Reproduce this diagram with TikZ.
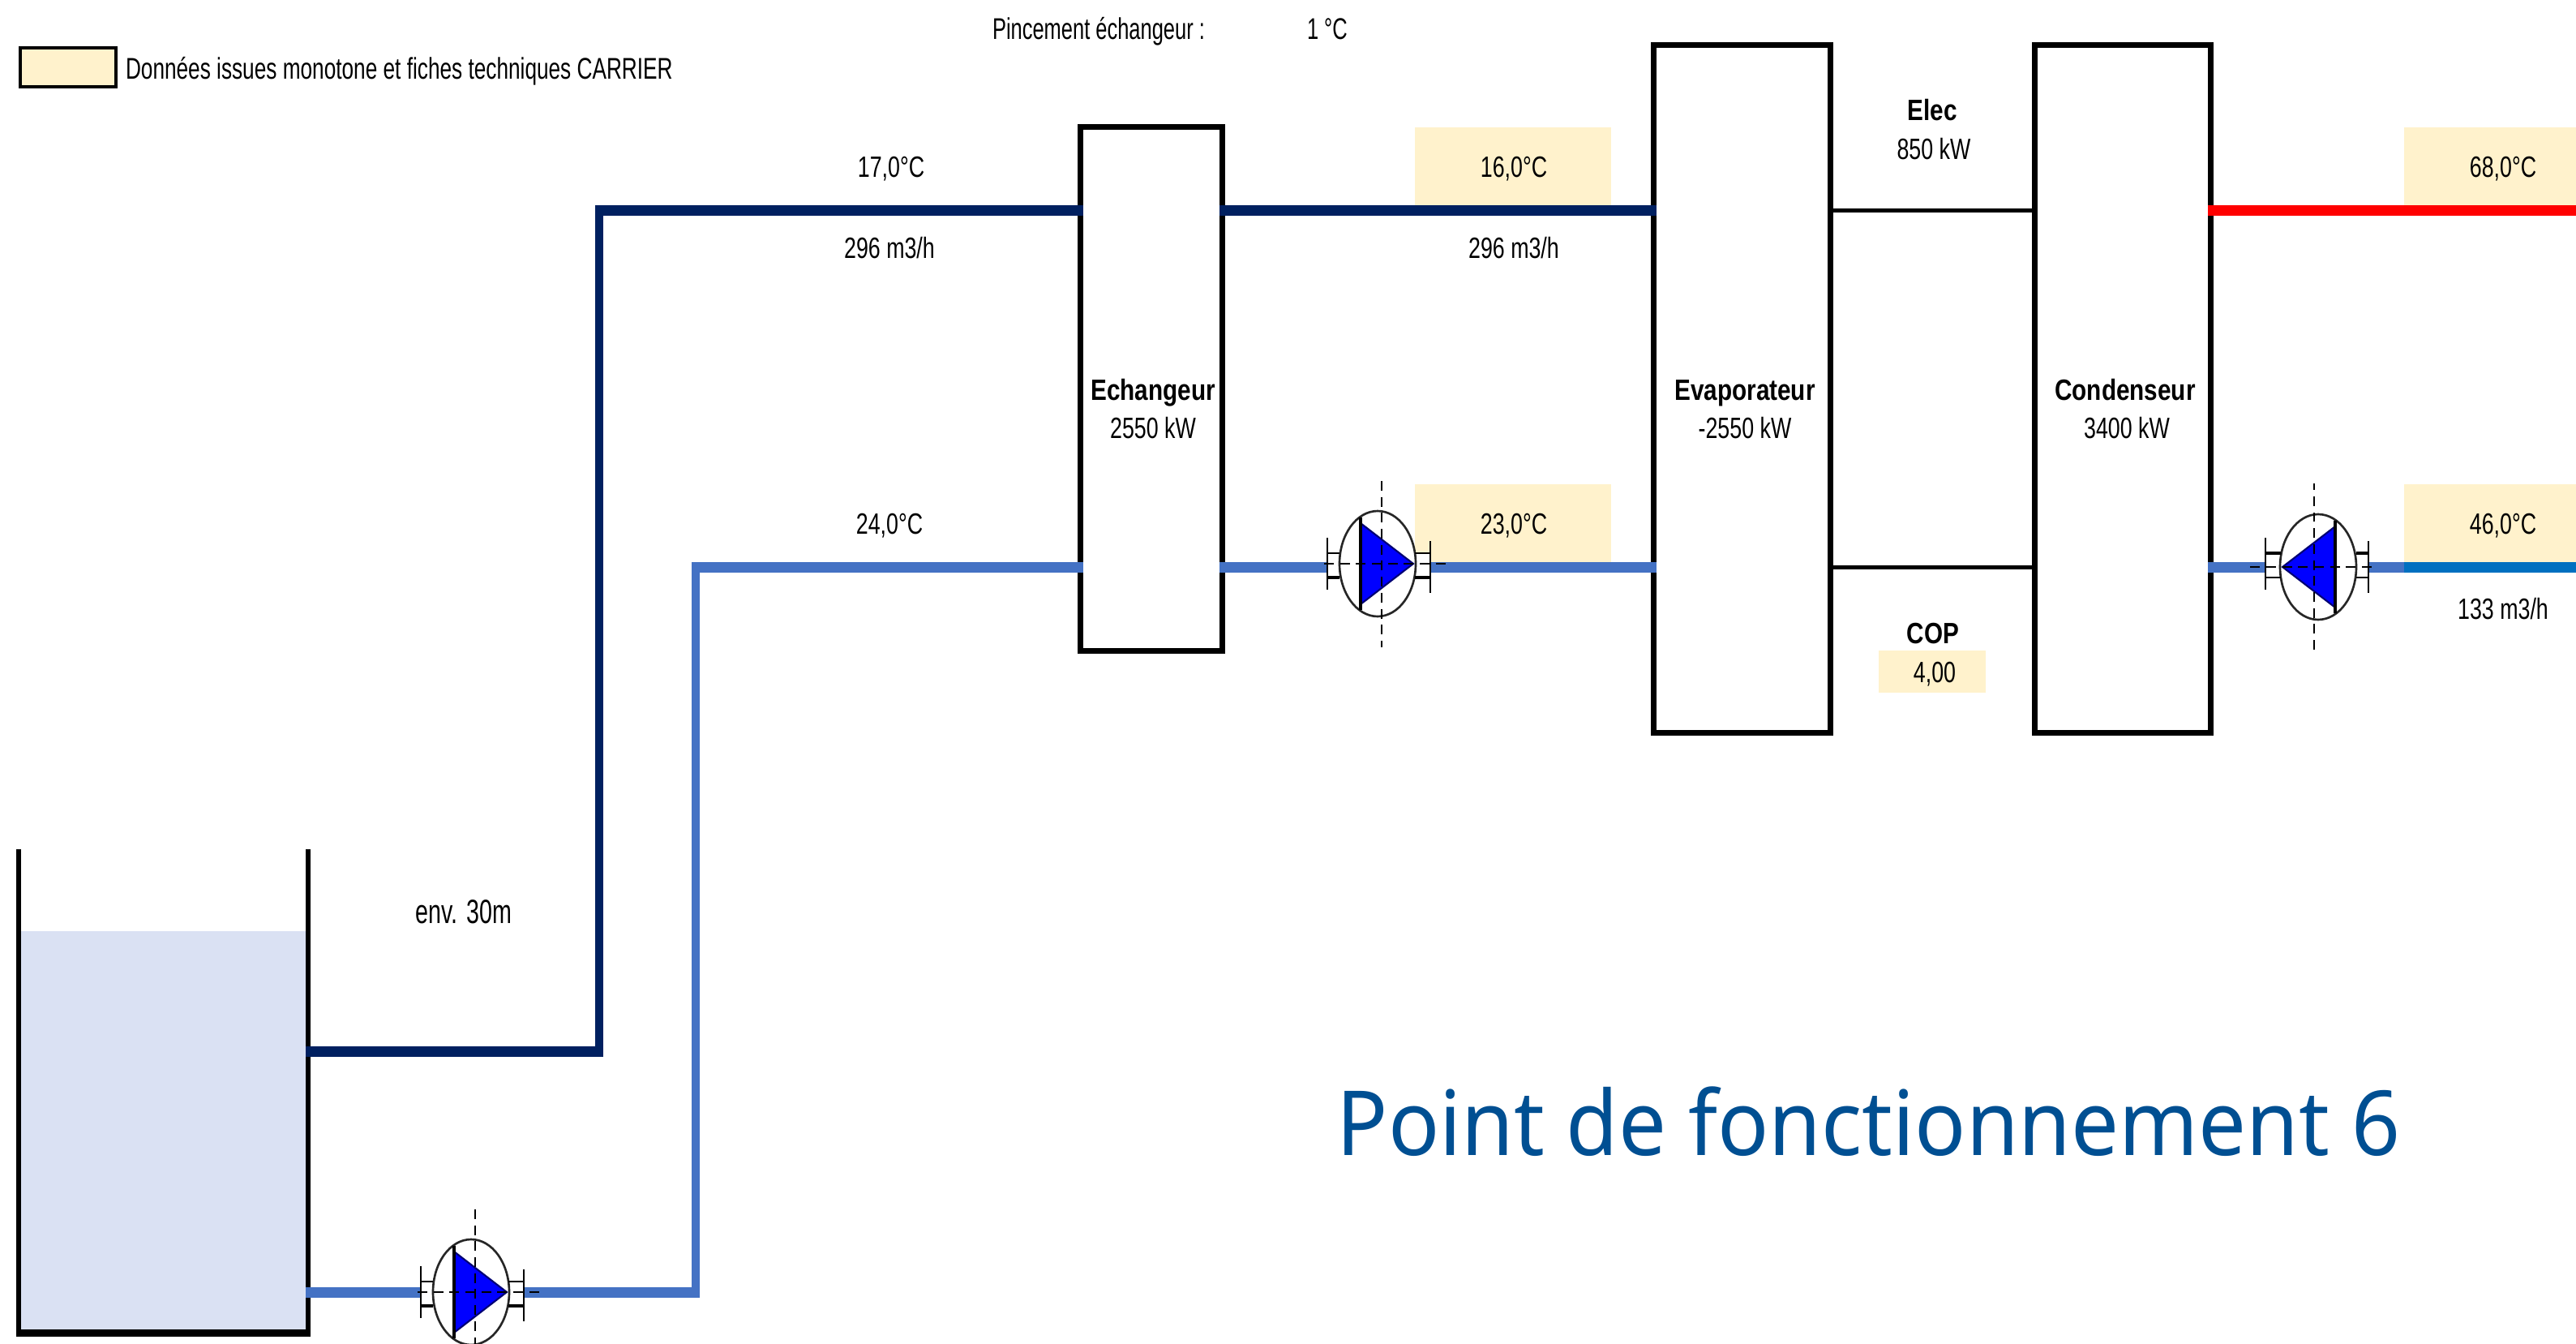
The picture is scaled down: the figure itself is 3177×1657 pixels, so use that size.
\documentclass[tikz,border=0pt]{standalone}
\usepackage{fontspec}
\setmainfont{Liberation Sans}
\newfontfamily\lblf[FakeStretch=0.74]{Liberation Sans}
\newfontfamily\boldf[FakeStretch=0.82]{Liberation Sans Bold}
\newfontfamily\narf[FakeStretch=0.69]{Liberation Sans}
\newfontfamily\legf[FakeStretch=0.71]{Liberation Sans}
\newfontfamily\titf[FakeStretch=0.945]{Noto Sans}
\definecolor{cream}{HTML}{FFF2CC}
\definecolor{navy}{HTML}{002060}
\definecolor{pipeblue}{HTML}{4472C4}
\definecolor{brightblue}{HTML}{0070C0}
\definecolor{water}{HTML}{DAE1F3}
\definecolor{titleblue}{HTML}{004F92}
\tikzset{
  x=0.01cm, y=-0.01cm,
  lbl/.style={anchor=base, inner sep=0pt, outer sep=0pt, font=\lblf\fontsize{10.3}{12}\selectfont},
  lblb/.style={lbl, font=\boldf\fontsize{10.3}{12}\selectfont},
  nar/.style={anchor=base west, inner sep=0pt, outer sep=0pt, font=\narf\fontsize{10.5}{12}\selectfont},
  creambox/.style={fill=cream, inner sep=0pt, outer sep=0pt},
  equip/.style={draw=black, fill=white, line width=2pt, inner sep=0pt, outer sep=-1pt},
  hpipe/.style={line width=3.7pt},
  vpipe/.style={line width=2.85pt},
  thinline/.style={line width=1.42pt, black},
  wall/.style={line width=1.71pt, black},
  pumpsym/.pic={
    \fill[white] (-67,-14) rectangle (60,18);
    \draw[draw=black!85, fill=white, line width=0.75pt] (-5,0) ellipse [x radius=47, y radius=65];
    \fill[blue] (-26,-50) -- (39,0) -- (-26,50) -- cycle;
    \draw[line width=0.6pt, blue!45!black] (-26,-50) -- (39,0) -- (-26,50);
    \draw[line width=0.9pt, black] (-26,-57) -- (-26,57);
    \draw[line width=0.8pt, black] (-67,-32) -- (-67,32) (60,-28) -- (60,36);
    \draw[line width=0.8pt, black] (-67,-13) -- (-52,-13) (41,-13) -- (60,-13);
    \draw[line width=1.2pt, black] (-67,17) -- (-52,17) (41,17) -- (60,17);
    \draw[line width=0.7pt, black, dash pattern=on 3.4pt off 2.2pt] (-71,0) -- (86,0) (0,-102) -- (0,103);
  }
}
\begin{document}
\begin{tikzpicture}
\useasboundingbox (0,0) rectangle (3177,1657);
\fill[white] (0,0) rectangle (3177,1657);
% cream fields
\node[creambox, minimum width=2.42cm, minimum height=0.96cm] (b16) at (1866,205) {};
\node[creambox, minimum width=2.42cm, minimum height=0.96cm] (b23) at (1866,645) {};
\node[creambox, minimum width=2.12cm, minimum height=0.96cm] (b68) at (3071,205) {};
\node[creambox, minimum width=2.12cm, minimum height=1.03cm] (b46) at (3071,648.5) {};
\node[creambox, minimum width=1.32cm, minimum height=0.52cm] (bcop) at (2383,828) {};
\node[draw=black, fill=cream, line width=1.14pt, inner sep=0pt, minimum width=1.18cm, minimum height=0.48cm] (legend) at (84,83) {};
% equipment
\node[equip, minimum width=1.75cm, minimum height=6.46cm] (exch) at (1420,479.5) {};
\node[equip, minimum width=2.18cm, minimum height=8.47cm] (evap) at (2148.5,479.5) {};
\node[equip, minimum width=2.17cm, minimum height=8.47cm] (cond) at (2618,479.5) {};
% tank
\node[fill=water, inner sep=0pt, outer sep=0pt, minimum width=3.51cm, minimum height=4.91cm] (tank) at (201.5,1393.5) {};
\coordinate (tl) at (23,1047); \coordinate (tbl) at (23,1648);
\coordinate (tr) at (380,1047); \coordinate (tbr) at (380,1648);
\draw[wall] (tl) -- (tbl);
\draw[wall] (tr) -- (tbr);
\draw[line width=2.56pt] (20,1643.5) coordinate (tb1) -- (383,1643.5) coordinate (tb2);
% row coordinates
\coordinate (rowT) at (0,259.5);
\coordinate (rowB) at (0,699);
\coordinate (p1) at (1704,695);
\coordinate (p2) at (586,1593);
\coordinate (p3) at (2854,699);
\coordinate (endT) at (3177,259.5);
\coordinate (endB) at (3177,699);
% cold dark loop
\coordinate (d1) at (744,1296.5); \coordinate (d2) at (739,1296.5);
\coordinate (d3) at (739,253); \coordinate (d4) at (734,259.5);
\draw[hpipe, navy] (tank.east |- d1) -- (d1);
\draw[vpipe, navy] (d2) -- (d3);
\draw[hpipe, navy] (d4) -- (exch.west |- rowT);
\draw[hpipe, navy] (exch.east |- rowT) -- (evap.west |- rowT);
% light loop
\coordinate (l1) at (863,1593); \coordinate (l2) at (858,1593);
\coordinate (l3) at (858,692.5); \coordinate (l4) at (853,699);
\draw[hpipe, pipeblue] (tank.east |- l1) -- (l1);
\draw[vpipe, pipeblue] (l2) -- (l3);
\draw[hpipe, pipeblue] (l4) -- (exch.west |- rowB);
\draw[hpipe, pipeblue] (exch.east |- rowB) -- (evap.west |- rowB);
% condenser side
\draw[hpipe, red] (cond.east |- rowT) -- (endT);
\draw[hpipe, pipeblue] (cond.east |- rowB) -- (b46.west |- rowB);
\draw[hpipe, brightblue] (b46.west |- rowB) -- (endB);
% refrigerant links
\draw[thinline] (evap.east |- rowT) -- (cond.west |- rowT);
\draw[thinline] (evap.east |- rowB) -- (cond.west |- rowB);
% pumps
\pic (pumpa) at (p1) {pumpsym};
\pic (pumpb) at (p2) {pumpsym};
\pic[rotate=180] (pumpc) at (p3) {pumpsym};
% labels
\node[nar, font=\legf\fontsize{10.5}{12}\selectfont] (tleg) at (155,97) {Données issues monotone et fiches techniques CARRIER};
\node[nar] (tpin) at (1224,48) {Pincement échangeur :};
\node[nar] (tpinv) at (1612,48) {1 °C};
\node[lbl] (t17) at (1099,218) {17,0°C};
\node[lbl] (tq1) at (1097,318) {296 m3/h};
\node[lbl] (t16) at (1867,218) {16,0°C};
\node[lbl] (tq2) at (1867,318) {296 m3/h};
\node[lbl] (t68) at (3087,218) {68,0°C};
\node[lbl] (t24) at (1097,658) {24,0°C};
\node[lbl] (t23) at (1867,658) {23,0°C};
\node[lbl] (t46) at (3087,658) {46,0°C};
\node[lbl] (tq3) at (3087,763) {133 m3/h};
\node[lblb] (telec) at (2383,148) {Elec};
\node[lbl] (tkw) at (2385,196) {850 kW};
\node[lblb] (tcop) at (2384,793) {COP};
\node[lbl] (tcopv) at (2386,841) {4,00};
\node[lblb] (tex) at (1422,493) {Echangeur};
\node[lbl] (texv) at (1422,540) {2550 kW};
\node[lblb] (tev) at (2152,493) {Evaporateur};
\node[lbl] (tevv) at (2152,540) {-2550 kW};
\node[lblb] (tco) at (2621,493) {Condenseur};
\node[lbl] (tcov) at (2623,540) {3400 kW};
\node[anchor=base, inner sep=0pt, font=\narf\fontsize{11.8}{14}\selectfont] (tenv) at (572,1138) {env. 30m};
\node[anchor=base west, inner sep=0pt, text=titleblue, font=\titf\fontsize{31.5}{36}\selectfont] (ttitle) at (1648,1424) {Point de fonctionnement 6};
\end{tikzpicture}
\end{document}
